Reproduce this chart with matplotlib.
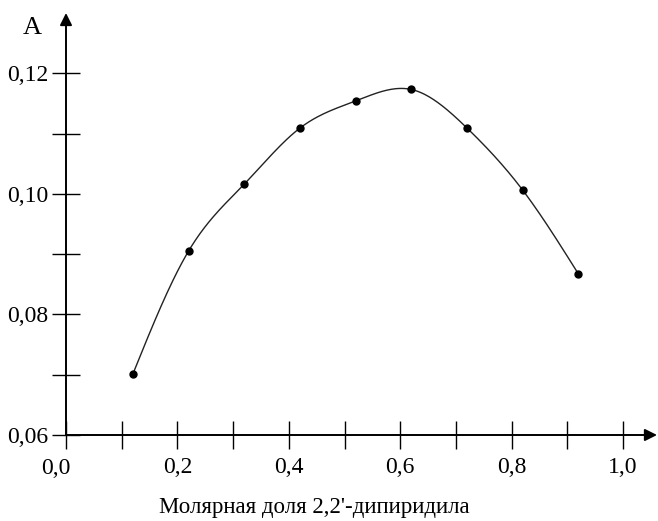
import numpy as np
import matplotlib
matplotlib.use("Agg")
import matplotlib.pyplot as plt

plt.rcParams["font.family"] = ["Liberation Serif", "DejaVu Serif"]

# data
mole_fraction = [0.12, 0.22, 0.32, 0.42, 0.52, 0.62, 0.72, 0.82, 0.92]
absorbance = [0.0701, 0.0905, 0.1016, 0.1109, 0.1154, 0.1173, 0.1109, 0.1006, 0.0867]

x_ticks = [0.0, 0.1, 0.2, 0.3, 0.4, 0.5, 0.6, 0.7, 0.8, 0.9, 1.0]
x_labels = ["", "", "0,2", "", "0,4", "", "0,6", "", "0,8", "", "1,0"]
y_ticks = [0.06, 0.07, 0.08, 0.09, 0.10, 0.11, 0.12]
y_labels = ["0,06", "", "0,08", "", "0,10", "", "0,12"]


def natural_spline(x, y, n=300):
    x = np.asarray(x, float)
    y = np.asarray(y, float)
    k = len(x)
    h = np.diff(x)
    a = np.zeros((k, k))
    b = np.zeros(k)
    a[0, 0] = a[-1, -1] = 1
    for i in range(1, k - 1):
        a[i, i - 1] = h[i - 1]
        a[i, i] = 2 * (h[i - 1] + h[i])
        a[i, i + 1] = h[i]
        b[i] = 3 * ((y[i + 1] - y[i]) / h[i] - (y[i] - y[i - 1]) / h[i - 1])
    c = np.linalg.solve(a, b)
    xs = np.linspace(x[0], x[-1], n)
    idx = np.clip(np.searchsorted(x, xs) - 1, 0, k - 2)
    dx = xs - x[idx]
    hi = h[idx]
    bb = (y[idx + 1] - y[idx]) / hi - hi * (2 * c[idx] + c[idx + 1]) / 3
    dd = (c[idx + 1] - c[idx]) / (3 * hi)
    ys = y[idx] + bb * dx + c[idx] * dx ** 2 + dd * dx ** 3
    return xs, ys


fig = plt.figure(figsize=(6.58, 5.21), dpi=100)
ax = fig.add_axes([66 / 658, 1 - 435 / 521, (657 - 66) / 658, (435 - 13) / 521])

xs, ys = natural_spline(mole_fraction, absorbance)
ax.plot(xs, ys, color="#222222", lw=1.0)
ax.plot(mole_fraction, absorbance, "o", color="black", ms=5)

ax.set_xlim(0, (657 - 66) / 557)
ax.set_ylim(0.06, 0.06 + (435 - 13) / 6030)

for s in ax.spines.values():
    s.set_visible(False)

# axis lines with arrow heads
ax.annotate("", xy=(1, 0), xytext=(0, 0), xycoords="axes fraction",
            arrowprops=dict(arrowstyle="-|>", color="black", lw=1.4,
                            mutation_scale=18, shrinkA=0, shrinkB=0))
ax.annotate("", xy=(0, 1), xytext=(0, 0), xycoords="axes fraction",
            arrowprops=dict(arrowstyle="-|>", color="black", lw=1.4,
                            mutation_scale=18, shrinkA=0, shrinkB=0))

ax.set_xticks(x_ticks)
ax.set_xticklabels(x_labels)
ax.set_yticks(y_ticks)
ax.set_yticklabels(y_labels)
ax.tick_params(direction="inout", length=20, width=1.0, labelsize=17, pad=3)
ax.tick_params(axis="x", pad=6)

fig.text(56 / 658, 1 - 468 / 521, "0,0", fontsize=17, ha="center", va="center")
fig.text(32 / 658, 1 - 28 / 521, "A", fontsize=19, ha="center", va="center")
fig.text(314 / 658, 1 - 508 / 521, "Молярная доля 2,2'-дипиридила",
         fontsize=16.5, ha="center", va="center")

fig.savefig("out.png", dpi=100)
